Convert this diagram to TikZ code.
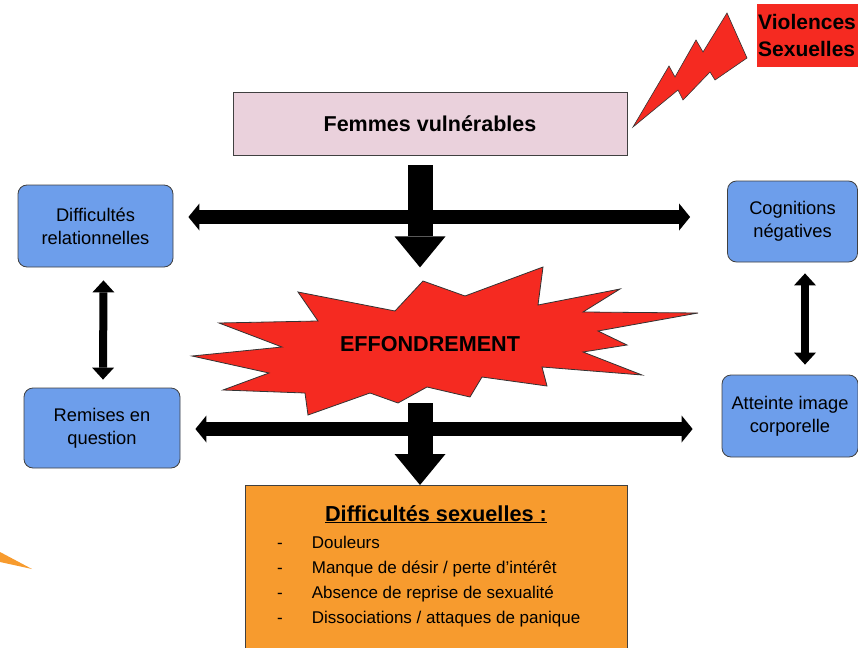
\documentclass[tikz,border=0pt]{standalone}
\usepackage{fontspec}
\setmainfont{Liberation Sans}
\usetikzlibrary{positioning}
\usetikzlibrary{arrows.meta}

\definecolor{boxblue}{HTML}{6D9EEB}
\definecolor{boxpink}{HTML}{EAD1DC}
\definecolor{boxorange}{HTML}{F79B2E}
\definecolor{alertred}{HTML}{F52A21}

\tikzset{
    sidebox/.style={draw=black!75, line width=.8pt, fill=boxblue, rounded corners=9pt,
        align=center, inner sep=0pt, font=\fontsize{18.3}{23}\selectfont},
    bigdown/.style={line width=25pt, -{Triangle[width=51pt,length=31pt,line width=0pt]}},
    bothway/.style={line width=14pt,
        {Triangle[width=27pt,length=11pt,line width=0pt]}-{Triangle[width=27pt,length=11pt,line width=0pt]}},
    updown/.style={line width=8pt,
        {Triangle[width=22pt,length=12pt,line width=0pt]}-{Triangle[width=22pt,length=12pt,line width=0pt]}},
}

\begin{document}
\begin{tikzpicture}[x=1pt, y=-1pt]

    \useasboundingbox (0,0) rectangle (858,647);

    % Top box and trigger
    \node[draw=black!75, line width=.8pt, fill=boxpink, minimum width=394pt, minimum height=63pt,
        font=\bfseries\fontsize{21.5}{26}\selectfont] (fem) at (430,123.5) {Femmes vulnérables};

    \node[fill=alertred, anchor=north west, text width=105pt, minimum height=63pt, align=left,
        inner sep=1pt, font=\bfseries\fontsize{21}{27}\selectfont] (viol) at (757,4) {Violences\\Sexuelles};

    \filldraw[fill=alertred, draw=black!80, line width=.6pt]
        (633,127) -- (669,66) -- (675,77) -- (696,40) -- (703,52) -- (727,13)
        -- (747,58) -- (715,80) -- (710,72) -- (683,100) -- (678,90) -- cycle;

    % Burst
    \filldraw[fill=alertred, draw=black!80, line width=.8pt]
        (192,356) -- (282,347) -- (219,323) -- (318,321) -- (298,292) -- (395,311)
        -- (423,281) -- (465,296) -- (543,267) -- (538,305) -- (620,289) -- (583,312)
        -- (698,313) -- (598,331) -- (627,345) -- (583,352) -- (642,375) -- (542,367)
        -- (547,386) -- (482,377) -- (470,397) -- (427,387) -- (398,403) -- (370,393)
        -- (308,415) -- (305,393) -- (223,390) -- (269,373) -- cycle;

    \node[font=\bfseries\fontsize{21.6}{26}\selectfont] (eff) at (430,344) {EFFONDREMENT};

    % Side boxes
    \node[sidebox, minimum width=155pt, minimum height=82pt] (dif) at (95.5,226) {Difficultés\\relationnelles};
    \node[sidebox, minimum width=130pt, minimum height=81pt] (cog) at (792.5,221.5) {Cognitions\\négatives};
    \node[sidebox, minimum width=156pt, minimum height=80pt] (rem) at (102,428) {Remises en\\question};
    \node[sidebox, minimum width=136pt, minimum height=82pt] (att) at (790,416) {Atteinte image\\corporelle};

    % Bottom box
    \node[draw=black!75, line width=.8pt, fill=boxorange, minimum width=382pt, minimum height=180pt,
        anchor=north, inner sep=0pt] (sex) at (436,485) {};

    \node[anchor=base, font=\bfseries\fontsize{21.7}{26}\selectfont] (sex-title)
        at ([yshift=-36pt]sex.north) {\underline{Difficultés sexuelles :}};

    \node[anchor=base west, inner sep=0pt, font=\fontsize{17}{25}\selectfont] (sex-list) at (277,548) {%
        \begin{tabular}[t]{@{}l@{\hspace{29pt}}l@{}}
            - & Douleurs\\
            - & Manque de désir / perte d’intérêt\\
            - & Absence de reprise de sexualité\\
            - & Dissociations / attaques de panique
        \end{tabular}};

    \fill[boxorange] (0,552) -- (32,569) -- (0,562) -- cycle;

    % Arrows
    \draw[bigdown] ([xshift=-10pt,yshift=-10pt]fem.south) -- ++(0,102);
    \draw[bigdown] ([xshift=-16pt,yshift=82pt]sex.north) -- ([xshift=-16pt]sex.north);

    \draw[bothway] ([xshift=15pt,yshift=9pt]dif.east) -- ([xshift=-37pt,yshift=4.5pt]cog.west);
    \draw[bothway] ([xshift=15pt,yshift=-1pt]rem.east) -- ([xshift=-29pt,yshift=-13pt]att.west);

    \draw[updown] ([xshift=8pt,yshift=-13pt]dif.south) -- ([xshift=1pt,yshift=8pt]rem.north);
    \draw[updown] ([xshift=12.5pt,yshift=-11pt]cog.south) -- ([xshift=15pt,yshift=10pt]att.north);

\end{tikzpicture}
\end{document}
